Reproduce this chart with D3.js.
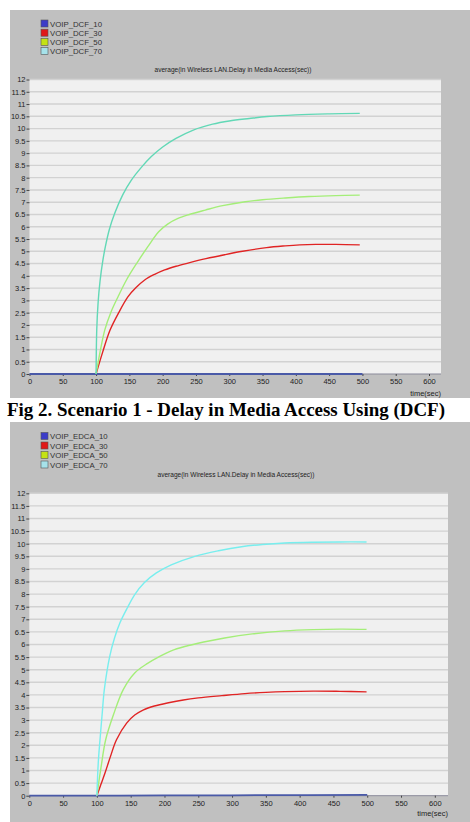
<!DOCTYPE html>
<html>
<head>
<meta charset="utf-8">
<script src="https://cdn.jsdelivr.net/npm/d3@7"></script>
<style>
  body { margin: 0; background: #fff; }
  svg { display: block; font-family: "Liberation Sans", Arial, sans-serif; }
</style>
</head>
<body>
<svg id="page" width="470" height="822"></svg>
<script>
// tick labels
const timeTicks = [0, 50, 100, 150, 200, 250, 300, 350, 400, 450, 500, 550, 600];
const valueTicks = [0, 0.5, 1, 1.5, 2, 2.5, 3, 3.5, 4, 4.5, 5, 5.5, 6, 6.5, 7, 7.5, 8, 8.5, 9, 9.5, 10, 10.5, 11, 11.5, 12];

// scenario 1 (DCF), [time(sec), delay(sec)]
const dcfNames = ["VOIP_DCF_10", "VOIP_DCF_30", "VOIP_DCF_50", "VOIP_DCF_70"];
const dcf10 = [[0, 0], [100, 0], [300, 0], [500, 0]];
const dcf30 = [[100, 0], [110, 0.9], [121, 1.79], [134, 2.5], [148, 3.15], [160, 3.52], [173, 3.83], [188, 4.06], [203, 4.24], [220, 4.39], [238, 4.52], [265, 4.7], [293, 4.86], [320, 5.0], [356, 5.15], [384, 5.22], [406, 5.26], [430, 5.28], [460, 5.28], [496, 5.26]];
const dcf50 = [[100, 0], [106, 0.9], [113, 1.79], [122, 2.5], [133, 3.15], [146, 3.85], [161, 4.51], [178, 5.2], [194, 5.8], [208, 6.12], [223, 6.34], [240, 6.5], [264, 6.68], [290, 6.86], [324, 7.02], [350, 7.1], [384, 7.17], [420, 7.23], [460, 7.27], [496, 7.29]];
const dcf70 = [[100, 0], [101, 1.8], [103, 2.9], [106, 3.8], [110, 4.6], [114, 5.2], [120, 5.9], [128, 6.55], [140, 7.3], [153, 7.9], [168, 8.42], [183, 8.86], [200, 9.25], [220, 9.6], [246, 9.94], [275, 10.18], [300, 10.31], [330, 10.41], [357, 10.49], [400, 10.56], [450, 10.6], [496, 10.62]];

// scenario 2 (EDCA)
const edcaNames = ["VOIP_EDCA_10", "VOIP_EDCA_30", "VOIP_EDCA_50", "VOIP_EDCA_70"];
const edca10 = [[0, 0], [100, 0], [200, 0.01], [350, 0.02], [500, 0.03]];
const edca30 = [[100, 0], [106, 0.45], [112, 0.9], [120, 1.55], [129, 2.22], [144, 2.88], [156, 3.2], [169, 3.41], [185, 3.56], [206, 3.69], [228, 3.8], [250, 3.88], [285, 3.97], [319, 4.05], [350, 4.1], [378, 4.13], [420, 4.15], [460, 4.14], [499, 4.12]];
const edca50 = [[100, 0], [106, 1.1], [113, 2.22], [125, 3.25], [139, 4.21], [156, 4.87], [175, 5.25], [193, 5.53], [210, 5.75], [230, 5.92], [258, 6.1], [289, 6.26], [330, 6.42], [378, 6.54], [420, 6.59], [460, 6.61], [499, 6.6]];
const edca70 = [[100, 0], [102, 1.3], [104.6, 2.22], [108, 3.3], [111, 4.21], [119, 5.53], [126, 6.25], [134, 6.85], [145, 7.45], [156, 7.98], [170, 8.45], [188, 8.84], [210, 9.16], [245, 9.5], [280, 9.72], [314, 9.88], [345, 9.97], [378, 10.03], [420, 10.06], [460, 10.07], [499, 10.07]];

const legendFill = ["#3c3cc8", "#e01818", "#c4e214", "#a6e2ea"];
const titleText = "average(in Wireless LAN.Delay in Media Access(sec))";

let svg = d3.select("#page");

function drawPanel(cfg) {
  let g = svg.append("g");

  // gray frame
  g.append("rect")
    .attr("x", 10).attr("y", cfg.top)
    .attr("width", 460).attr("height", cfg.bottom - cfg.top)
    .attr("fill", "#c0c0c0");

  let x = d3.scaleLinear().domain([0, cfg.xMax]).range([cfg.left, cfg.right]);
  let y = d3.scaleLinear().domain([0, 12]).range([cfg.y0, cfg.y12]);

  // legend
  let leg = g.selectAll(".leg").data(cfg.names).enter().append("g")
    .attr("transform", (d, i) => "translate(41," + (cfg.legendY + i * cfg.legendStep) + ")");
  leg.append("rect")
    .attr("x", 0).attr("y", -3.5).attr("width", 7).attr("height", 7)
    .attr("fill", (d, i) => legendFill[i])
    .attr("stroke", "#555").attr("stroke-width", 0.6);
  leg.append("text")
    .attr("x", 9).attr("y", 3)
    .attr("font-size", 7.8).attr("fill", "#333")
    .text(d => d);

  // title
  g.append("text")
    .attr("x", cfg.titleX).attr("y", cfg.titleY)
    .attr("text-anchor", "middle")
    .attr("font-size", 7.5).attr("fill", "#222")
    .attr("textLength", 157).attr("lengthAdjust", "spacingAndGlyphs")
    .text(titleText);

  // plot background
  g.append("rect")
    .attr("x", cfg.left).attr("y", y(12))
    .attr("width", cfg.right - cfg.left).attr("height", y(0) - y(12))
    .attr("fill", "#f0f0f0");

  // grid
  g.selectAll(".grid").data(valueTicks.filter(v => v > 0)).enter().append("line")
    .attr("x1", cfg.left).attr("x2", cfg.right)
    .attr("y1", d => y(d)).attr("y2", d => y(d))
    .attr("stroke", "#d2d2d2").attr("stroke-width", 1.4);

  // y axis
  let yAxis = g.append("g")
    .attr("transform", "translate(" + cfg.left + ",0)")
    .call(d3.axisLeft(y).tickValues(valueTicks).tickSize(3).tickPadding(1).tickFormat(d3.format("")));
  yAxis.select(".domain").remove();
  yAxis.selectAll("line").attr("stroke", "#444");
  yAxis.selectAll("text").attr("font-size", 7.5).attr("fill", "#222")
    .attr("font-family", "Liberation Sans, Arial, sans-serif");

  // x axis
  let xAxis = g.append("g")
    .attr("transform", "translate(0," + y(0) + ")")
    .call(d3.axisBottom(x).tickValues(timeTicks).tickSize(2).tickPadding(3));
  xAxis.select(".domain").attr("stroke", "#8a8a9a").attr("d", "M" + cfg.left + ",0H" + cfg.right);
  xAxis.selectAll("line").attr("stroke", "#444");
  xAxis.selectAll("text").attr("font-size", 7.5).attr("fill", "#222")
    .attr("font-family", "Liberation Sans, Arial, sans-serif");

  g.append("text")
    .attr("x", cfg.right).attr("y", cfg.unitY)
    .attr("text-anchor", "end")
    .attr("font-size", 7.5).attr("fill", "#222")
    .text("time(sec)");

  // lines
  let line = d3.line()
    .x(d => x(d[0]))
    .y(d => y(d[1]))
    .curve(d3.curveCatmullRom.alpha(0.5));

  cfg.series.forEach(function(s, i) {
    g.append("path")
      .datum(s)
      .attr("fill", "none")
      .attr("stroke", cfg.lineColors[i])
      .attr("stroke-width", i === 0 ? 1.8 : 1.4)
      .attr("d", line);
  });
}

drawPanel({
  top: 10, bottom: 398,
  names: dcfNames,
  series: [dcf10, dcf30, dcf50, dcf70],
  lineColors: ["#4a5aa8", "#e02424", "#a4ee78", "#62d8b6"],
  legendY: 23.5, legendStep: 9.2,
  titleX: 233, titleY: 72,
  left: 29.5, right: 441, xMax: 618,
  y0: 374, y12: 79.5,
  unitY: 396
});

drawPanel({
  top: 422, bottom: 822,
  names: edcaNames,
  series: [edca10, edca30, edca50, edca70],
  lineColors: ["#4a5aa8", "#e02424", "#a4ee78", "#78eeee"],
  legendY: 436, legendStep: 9.5,
  titleX: 236, titleY: 477,
  left: 29.3, right: 448, xMax: 619.5,
  y0: 795.7, y12: 493.3,
  unitY: 816
});

// caption between the panels
svg.append("text")
  .attr("x", 7).attr("y", 415.5)
  .attr("font-family", "Liberation Serif, Times New Roman, serif")
  .attr("font-weight", "bold")
  .attr("font-size", 19.5)
  .attr("fill", "#000")
  .attr("textLength", 438).attr("lengthAdjust", "spacingAndGlyphs")
  .text("Fig 2. Scenario 1 - Delay in Media Access Using (DCF)");
</script>
</body>
</html>
